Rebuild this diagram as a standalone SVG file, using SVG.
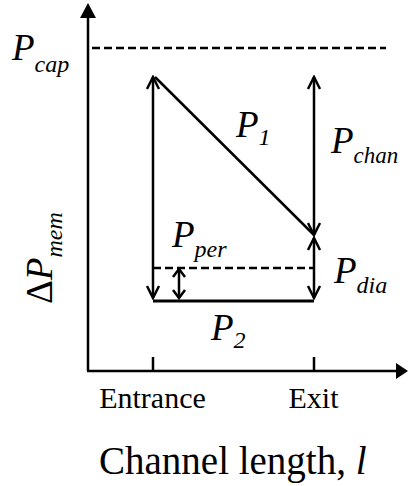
<svg xmlns="http://www.w3.org/2000/svg" width="409" height="486" viewBox="0 0 409 486">
<style>
.ln{stroke:#000;stroke-width:2.5;fill:none}
.dash{stroke:#000;stroke-width:2.5;fill:none;stroke-dasharray:8 4}
.ar{stroke:#000;stroke-width:2.5;fill:none;marker-start:url(#v);marker-end:url(#v)}
text{fill:#000;font-family:'Liberation Serif','Times New Roman',serif}
.i{font-style:italic}
</style>
<defs>
<marker id="v" markerUnits="userSpaceOnUse" viewBox="-14 -8 16 16" refX="0" refY="0" markerWidth="16" markerHeight="16" orient="auto-start-reverse">
<path d="M-12,-6 L0,0 L-12,6" fill="none" stroke="#000" stroke-width="2.5"/>
</marker>
<marker id="vs" markerUnits="userSpaceOnUse" viewBox="-14 -8 16 16" refX="0" refY="0" markerWidth="16" markerHeight="16" orient="auto-start-reverse">
<path d="M-8,-6 L0,0 L-8,6" fill="none" stroke="#000" stroke-width="2.5"/>
</marker>
</defs>
<g id="axes">
<line class="ln" x1="88" y1="371" x2="88" y2="17"/>
<polygon points="88,3 80,18 96,18" fill="#000"/>
<line class="ln" x1="87" y1="371" x2="397" y2="371"/>
<polygon points="408,371 396,363 396,379" fill="#000"/>
<line class="ln" x1="153" y1="371" x2="153" y2="357"/>
<line class="ln" x1="314" y1="371" x2="314" y2="357"/>
</g>
<g id="connectors">
<line class="dash" x1="92" y1="48" x2="386" y2="48"/>
<line class="dash" x1="153" y1="268" x2="314" y2="268"/>
<line class="ln" x1="153" y1="301" x2="314" y2="301" style="stroke-width:3"/>
<line class="ln" x1="155" y1="77" x2="314" y2="235"/>
<line class="ar" x1="153" y1="77" x2="153" y2="298"/>
<line class="ar" x1="314" y1="77" x2="314" y2="235"/>
<line class="ar" x1="314" y1="238" x2="314" y2="298"/>
<line class="ln" x1="179" y1="269" x2="179" y2="298" style="marker-start:url(#vs);marker-end:url(#vs)"/>
</g>
<g id="labels">
<text class="i" x="12" y="60" font-size="37">P<tspan font-size="24" dy="12">cap</tspan></text>
<text class="i" x="236" y="137" font-size="37">P<tspan font-size="24" dy="8">1</tspan></text>
<text class="i" x="331" y="153" font-size="37">P<tspan font-size="23" dy="10">chan</tspan></text>
<text class="i" x="172" y="247" font-size="37">P<tspan font-size="24" dy="10">per</tspan></text>
<text class="i" x="334" y="283" font-size="37">P<tspan font-size="24" dy="10">dia</tspan></text>
<text class="i" x="211" y="340" font-size="37">P<tspan font-size="24" dy="8">2</tspan></text>
<text transform="translate(52,304) rotate(-90)" font-size="37">Δ<tspan class="i">P</tspan><tspan class="i" font-size="24" dy="10">mem</tspan></text>
<text x="152.5" y="408" font-size="30" text-anchor="middle">Entrance</text>
<text x="313.5" y="408" font-size="30" text-anchor="middle">Exit</text>
<text x="99" y="474" font-size="39">Channel length, <tspan class="i">l</tspan></text>
</g>
</svg>
